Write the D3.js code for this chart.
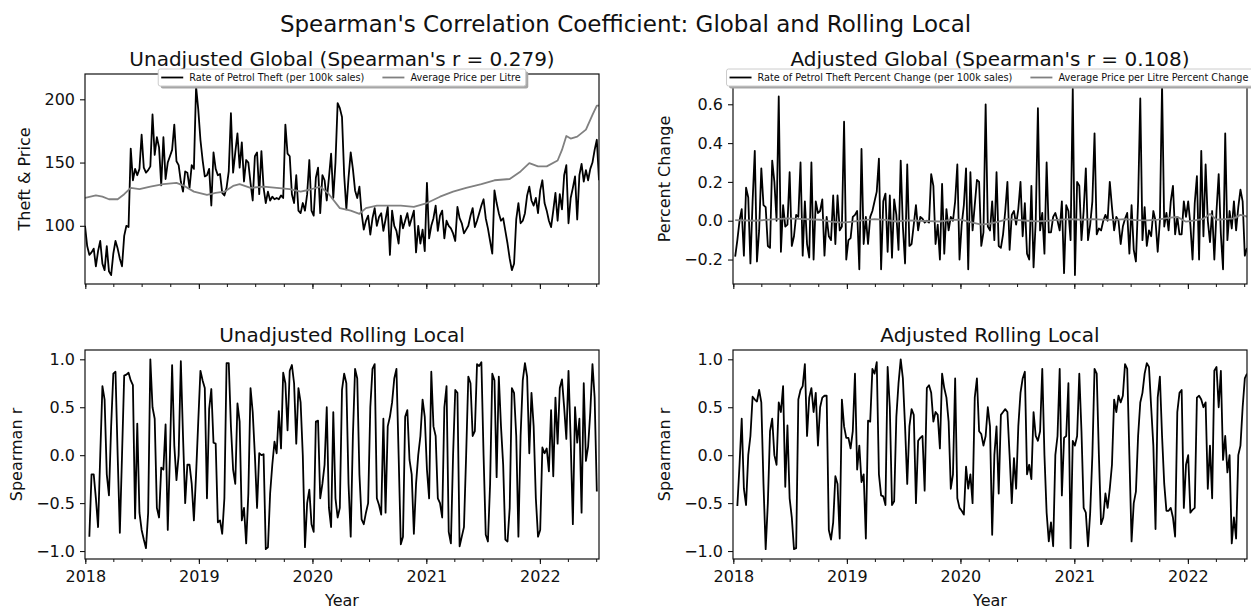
<!DOCTYPE html>
<html>
<head>
<meta charset="utf-8">
<script src="https://cdn.jsdelivr.net/npm/d3@7"></script>
<style>
  body { margin: 0; background: #fff; }
  svg { font-family: "DejaVu Sans", sans-serif; }
</style>
</head>
<body>
<svg id="chart" width="1251" height="609"></svg>
<script>
// weekly observations, week 0 = 2017-12-31
const startDate = new Date(2017, 11, 31);
const weekDate = i => d3.timeDay.offset(startDate, i * 7);

// rate of petrol theft per 100k sales (weeks 0..236)
const theftRate = [
  100, 84, 77, 79, 82, 68, 80, 88, 70, 65,
  84, 64, 61, 78, 88, 82, 74, 68, 92, 100,
  99, 161, 136, 145, 140, 145, 172, 146, 142, 144,
  147, 188, 156, 170, 162, 132, 170, 137, 150, 155,
  160, 180, 151, 148, 135, 127, 143, 142, 130, 148,
  145, 210, 192, 168, 152, 139, 140, 145, 116, 158,
  145, 140, 141, 126, 124, 130, 143, 189, 142, 158,
  173, 146, 166, 135, 152, 150, 134, 120, 155, 158,
  125, 159, 130, 118, 127, 120, 123, 121, 122, 121,
  124, 122, 180, 157, 155, 125, 118, 140, 112, 110,
  118, 112, 125, 152, 112, 108, 138, 146, 110, 140,
  136, 120, 138, 157, 122, 150, 197, 193, 186, 140,
  113, 138, 158, 145, 128, 122, 131, 110, 97, 104,
  108, 93, 106, 114, 100, 107, 110, 96, 105, 115,
  77, 112, 100, 96, 86, 108, 98, 104, 110, 100,
  106, 112, 79, 100, 86, 97, 80, 134, 90, 100,
  106, 116, 96, 108, 112, 90, 104, 100, 98, 94,
  88, 115, 106, 102, 94, 97, 100, 108, 114, 99,
  104, 110, 116, 121, 106, 98, 88, 78, 128, 118,
  110, 104, 106, 96, 86, 74, 65, 70, 105, 118,
  102, 104, 110, 124, 131, 120, 116, 122, 110, 128,
  136, 118, 112, 104, 99, 112, 126, 104, 125, 113,
  140, 148, 102, 122, 130, 139, 105, 140, 149, 135,
  144, 136, 145, 150, 160, 168, 136
];

// average price per litre (read at turning points)
const priceWeeks = [0, 5, 8, 11, 15, 18, 21, 25, 30, 36, 42, 45, 50, 56, 60, 64, 68, 71, 76, 82,
  88, 94, 99, 103, 108, 112, 117, 122, 126, 129, 134, 145, 151, 157, 163, 169, 175, 182, 188, 195,
  200, 204, 208, 212, 217, 219, 221, 223, 226, 230, 233, 235, 236];
const priceValues = [122, 124, 123, 121, 121, 125, 130, 129, 131, 133, 134, 132, 127, 124.5, 126, 127, 131.5, 133, 130, 131,
  130, 129, 127, 128.5, 131, 125, 114, 112, 109.5, 114, 116, 116, 115, 118, 123, 127, 130, 133, 136, 137,
  143, 149.5, 147, 147, 151.6, 160, 171, 169, 170.5, 176, 187.6, 195, 195];

// theft percent change (weeks 1..236)
const theftChange = [
  -0.185, -0.1, 0.0, 0.06, -0.18, 0.17, 0.12, -0.22, 0.1, 0.36,
  -0.21, -0.05, 0.27, 0.08, 0.07, -0.13, -0.14, 0.31, 0.2, 0.0,
  0.64, -0.16, 0.08, -0.03, -0.02, 0.25, -0.13, -0.08, 0.03, 0.02,
  0.3, -0.18, 0.1, -0.12, -0.19, 0.3, -0.2, 0.1, 0.04, 0.05,
  0.11, -0.18, 0.02, -0.08, -0.1, 0.13, -0.12, 0.13, -0.05, -0.03,
  0.51, -0.2, -0.1, -0.09, 0.02, 0.03, 0.05, -0.25, 0.37, -0.12,
  0.02, -0.12, 0.02, 0.05, 0.1, 0.15, 0.32, -0.25, 0.1, 0.14,
  -0.16, 0.13, -0.19, 0.11, 0.03, -0.15, 0.31, -0.03, -0.22, 0.29,
  -0.13, -0.12, -0.02, 0.08, -0.05, 0.02, 0.01, -0.01, 0.0, -0.01,
  0.24, 0.18, -0.12, -0.02, -0.2, 0.19, -0.17, 0.06, -0.05, 0.02,
  0.0, 0.1, 0.29, -0.2, -0.02, 0.08, 0.27, -0.25, 0.25, -0.05,
  0.08, 0.21, 0.2, -0.13, -0.06, 0.6, -0.03, -0.05, 0.1, -0.1,
  0.25, -0.13, -0.14, -0.07, 0.05, 0.2, -0.15, 0.03, 0.05, -0.02,
  0.06, 0.2, -0.08, 0.09, -0.17, -0.2, 0.18, -0.24, 0.0, 0.58,
  -0.05, 0.04, -0.17, 0.3, -0.06, -0.06, 0.02, 0.04, 0.0, -0.05,
  0.1, -0.27, 0.08, 0.05, -0.1, 0.68, -0.28, 0.2, 0.18, -0.1,
  0.05, 0.27, -0.1, -0.02, 0.1, 0.45, -0.07, -0.04, -0.05, 0.0,
  0.03, 0.0, 0.2, 0.07, -0.05, 0.02, 0.0, -0.12, -0.03, 0.01,
  0.04, -0.17, 0.08, -0.15, -0.21, 0.1, 0.63, -0.1, 0.07, -0.13,
  -0.05, -0.08, 0.05, 0.0, -0.16, 0.0, 0.7, -0.03, 0.04, -0.05,
  0.1, 0.18, -0.07, 0.02, -0.07, -0.07, 0.1, 0.02, 0.1, -0.02,
  -0.2, 0.09, 0.23, -0.2, 0.36, -0.08, 0.29, 0.0, -0.11, 0.05,
  -0.2, 0.05, 0.24, -0.07, -0.25, 0.45, -0.1, 0.05, -0.04, 0.1,
  -0.05, 0.07, 0.16, 0.1, -0.18, -0.14
];

// price percent change (read at turning points)
const priceChangeWeeks = [1, 10, 20, 25, 30, 40, 45, 50, 55, 60, 65, 70, 75, 80, 85, 90, 95, 100, 105, 110,
  114, 118, 122, 126, 130, 135, 140, 145, 150, 155, 160, 165, 170, 175, 180, 185, 190, 195, 200, 204,
  208, 212, 216, 219, 222, 226, 230, 233, 235, 236];
const priceChangeValues = [0.003, 0.0, 0.008, 0.012, 0.01, 0.005, -0.005, -0.01, -0.005, 0.003, 0.008, 0.004, -0.004, 0.002, 0.0, -0.002, -0.004, 0.004, 0.005, -0.01,
  -0.02, -0.015, -0.005, 0.008, 0.004, 0.0, -0.003, 0.0, 0.006, 0.008, 0.005, 0.008, 0.006, 0.004, 0.008, 0.003, 0.002, 0.006, 0.015, 0.02,
  -0.005, 0.002, 0.01, 0.035, 0.005, 0.008, 0.012, 0.03, 0.025, 0.02];

// rolling local spearman r, unadjusted (weeks 2..235)
const rollingUnadjusted = [
  -0.85, -0.2, -0.2, -0.45, -0.75, 0.0, 0.72, 0.58, -0.2, -0.42,
  0.3, 0.85, 0.87, 0.0, -0.81, 0.0, 0.83, 0.84, 0.86, 0.78,
  0.73, -0.66, 0.33, -0.6, -0.78, -0.88, -0.97, -0.6, 1.0, 0.5,
  0.38, -0.55, -0.65, -0.13, -0.15, 0.32, -0.78, 0.0, 0.94, 0.1,
  -0.26, 0.0, 0.98, 0.2, -0.5, -0.1, -0.1, -0.3, -0.68, -0.2,
  0.35, 0.88, 0.78, 0.7, -0.45, 0.48, 0.69, 0.13, 0.12, -0.7,
  -0.68, -0.82, -0.45, 0.96, 0.96, 0.3, -0.15, -0.3, 0.54, 0.35,
  -0.68, -0.55, -0.92, -0.4, 0.7, 0.45, 0.0, -0.55, 0.02, 0.0,
  0.01, -0.98, -0.96, -0.4, -0.1, 0.14, 0.02, 0.46, 0.07, 0.86,
  0.75, 0.26, 0.88, 0.94, 0.75, 0.12, 0.7, 0.55, 0.0, -0.96,
  -0.5, -0.36, -0.72, -0.8, 0.35, 0.36, -0.45, -0.3, -0.1, 0.5,
  -0.55, -0.75, 0.45, -0.45, -0.65, -0.55, 0.68, 0.85, 0.75, -0.3,
  -0.85, 0.2, 0.9, 0.8, -0.2, -0.67, -0.72, -0.6, -0.5, 0.5,
  0.9, 0.95, -0.45, -0.52, -0.62, 0.38, -0.6, 0.3, 0.4, 0.55,
  0.8, 0.9, 0.0, -0.93, -0.85, 0.4, 0.47, -0.05, -0.2, -0.82,
  -0.3, 0.0, 0.2, 0.58, 0.4, -0.15, -0.45, 0.87, 0.3, 0.2,
  -0.45, -0.5, -0.65, 0.5, 0.72, -0.8, -0.92, 0.0, 0.68, 0.65,
  -0.95, -0.85, -0.75, 0.0, 0.82, 0.75, 0.2, 0.25, 0.95, 0.93,
  0.97, 0.0, -0.83, -0.9, -0.3, 0.85, 0.78, -0.23, 0.82, 0.3,
  -0.1, -0.88, -0.9, -0.55, 0.7, 0.65, 0.2, -0.85, 0.2, 0.78,
  0.96, 0.82, 0.02, 0.65, 0.3, -0.45, -0.85, -0.78, 0.08, 0.02,
  0.07, -0.17, 0.47, -0.22, 0.6, 0.12, 0.7, 0.79, 0.5, 0.17,
  0.88, 0.15, -0.72, 0.5, 0.13, 0.38, -0.6, 0.75, -0.06, 0.09,
  0.45, 0.95, 0.6, -0.38
];

// rolling local spearman r, adjusted (weeks 2..236)
const rollingAdjusted = [
  -0.53, -0.1, 0.38, -0.35, -0.52, 0.0, 0.2, 0.61, 0.58, 0.56,
  0.68, 0.55, -0.3, -0.98, -0.5, 0.25, 0.38, 0.0, -0.1, 0.55,
  0.45, 0.72, -0.33, 0.31, -0.45, -0.65, -0.98, -0.97, 0.58, 0.68,
  0.72, 0.95, 0.2, 0.6, 0.7, 0.45, 0.65, 0.1, 0.5, 0.6,
  0.62, 0.62, -0.78, -0.88, -0.7, -0.22, -0.3, -0.87, 0.58, 0.3,
  0.18, 0.18, 0.07, 0.25, 0.85, -0.15, 0.1, -0.28, -0.2, -0.87,
  0.36, 0.35, 0.9, 0.85, 0.97, -0.2, -0.42, -0.43, -0.52, 0.92,
  0.5, -0.52, -0.48, 0.4, 0.75, 1.0, 0.8, 0.3, -0.3, 0.3,
  0.48, 0.42, -0.5, 0.15, 0.18, 0.2, -0.37, 0.7, 0.73, 0.65,
  0.35, 0.45, 0.42, 0.07, 0.85, 0.7, 0.6, 0.35, -0.35, -0.2,
  0.8, -0.45, -0.55, -0.58, -0.62, -0.12, -0.35, -0.2, -0.5, 0.6,
  0.8, 0.25, 0.22, 0.1, 0.2, 0.5, 0.3, -0.83, 0.0, 0.3,
  -0.4, 0.42, 0.45, 0.48, 0.45, 0.0, -0.5, -0.03, -0.35, 0.3,
  0.65, 0.8, 0.87, -0.2, -0.1, -0.25, 0.45, 0.2, 0.15, 0.25,
  0.9, 0.0, -0.6, -0.9, -0.7, -0.95, 0.0, 0.2, 0.9, -0.42,
  0.18, 0.2, 0.75, -0.97, 0.15, 0.1, 0.2, 0.85, 0.25, -0.55,
  -0.6, -0.95, -0.6, 0.0, 0.9, 0.85, 0.0, -0.72, -0.65, -0.4,
  -0.55, -0.35, -0.1, 0.58, 0.45, 0.62, 0.55, 0.62, 0.95, 0.9,
  0.0, -0.9, -0.5, -0.38, 0.2, 0.55, 0.65, 0.85, 0.96, 0.92,
  0.5, 0.1, -0.77, 0.6, 0.82, 0.2, -0.3, -0.58, -0.58, -0.55,
  -0.65, -0.85, 0.45, 0.65, 0.68, -0.55, -0.1, 0.0, -0.6, -0.57,
  -0.55, 0.6, 0.62, 0.58, 0.5, 0.55, -0.35, 0.1, -0.45, 0.88,
  0.92, 0.5, 0.88, -0.05, 0.2, -0.18, 0.0, -0.92, -0.65, -0.87,
  0.0, 0.1, 0.5, 0.8, 0.85
];

const fromWeek = (values, start) => values.map((v, i) => ({ date: weekDate(start + i), value: v }));
const fromPairs = (weeks, values) => weeks.map((w, i) => ({ date: weekDate(w), value: values[i] }));

const svg = d3.select("#chart");
const ink = "#111";
const plotW = 514;
const xDomain = [weekDate(0), weekDate(236)];

const panels = [
  {
    id: "tl", left: 85, top: 74, height: 210,
    title: "Unadjusted Global (Spearman's r = 0.279)",
    ylabel: "Theft & Price", yDomain: [54, 220], yTicks: [100, 150, 200], yFmt: d3.format("d"),
    series: [
      { data: fromWeek(theftRate, 0), color: "#000" },
      { data: fromPairs(priceWeeks, priceValues), color: "#808080" }
    ],
    legend: [
      { label: "Rate of Petrol Theft (per 100k sales)", color: "#000" },
      { label: "Average Price per Litre", color: "#808080" }
    ],
    xLabels: false
  },
  {
    id: "tr", left: 733, top: 74, height: 210,
    title: "Adjusted Global (Spearman's r = 0.108)",
    ylabel: "Percent Change", yDomain: [-0.326, 0.756], yTicks: [-0.2, 0, 0.2, 0.4, 0.6], yFmt: d3.format(".1f"),
    series: [
      { data: fromWeek(theftChange, 1), color: "#000" },
      { data: fromPairs(priceChangeWeeks, priceChangeValues), color: "#808080" }
    ],
    legend: [
      { label: "Rate of Petrol Theft Percent Change (per 100k sales)", color: "#000" },
      { label: "Average Price per Litre Percent Change", color: "#808080" }
    ],
    xLabels: false
  },
  {
    id: "bl", left: 85, top: 350, height: 209,
    title: "Unadjusted Rolling Local",
    ylabel: "Spearman r", yDomain: [-1.083, 1.097], yTicks: [-1, -0.5, 0, 0.5, 1], yFmt: d3.format(".1f"),
    series: [{ data: fromWeek(rollingUnadjusted, 2), color: "#000" }],
    xLabels: true
  },
  {
    id: "br", left: 733, top: 350, height: 209,
    title: "Adjusted Rolling Local",
    ylabel: "Spearman r", yDomain: [-1.083, 1.097], yTicks: [-1, -0.5, 0, 0.5, 1], yFmt: d3.format(".1f"),
    series: [{ data: fromWeek(rollingAdjusted, 2), color: "#000" }],
    xLabels: true
  }
];

// figure title
svg.append("text")
  .attr("x", 625.5).attr("y", 32)
  .attr("text-anchor", "middle")
  .attr("font-size", 23).attr("fill", ink)
  .text("Spearman's Correlation Coefficient: Global and Rolling Local");

const defs = svg.append("defs");

panels.forEach(p => {
  const x = d3.scaleTime().domain(xDomain).range([p.left, p.left + plotW]);
  const y = d3.scaleLinear().domain(p.yDomain).range([p.top + p.height, p.top]);

  defs.append("clipPath").attr("id", "clip-" + p.id)
    .append("rect").attr("x", p.left).attr("y", p.top).attr("width", plotW).attr("height", p.height);

  const g = svg.append("g");

  // lines
  const line = d3.line().x(d => x(d.date)).y(d => y(d.value));
  p.series.forEach(s => {
    g.append("path")
      .datum(s.data)
      .attr("clip-path", `url(#clip-${p.id})`)
      .attr("fill", "none")
      .attr("stroke", s.color)
      .attr("stroke-width", 1.8)
      .attr("stroke-linejoin", "round")
      .attr("d", line);
  });

  // spines
  g.append("rect")
    .attr("x", p.left).attr("y", p.top).attr("width", plotW).attr("height", p.height)
    .attr("fill", "none").attr("stroke", ink).attr("stroke-width", 1.2);

  // y axis
  const yAxis = g.append("g")
    .attr("transform", `translate(${p.left},0)`)
    .call(d3.axisLeft(y).tickValues(p.yTicks).tickFormat(p.yFmt).tickSize(5).tickPadding(5).tickSizeOuter(0));
  yAxis.select(".domain").remove();
  yAxis.selectAll("line").attr("stroke", ink).attr("stroke-width", 1.1);
  yAxis.selectAll("text").attr("font-size", 16).attr("fill", ink).attr("font-family", "DejaVu Sans");

  // x axis: minor quarterly ticks, major yearly ticks
  const bottom = p.top + p.height;
  const minor = g.append("g")
    .attr("transform", `translate(0,${bottom})`)
    .call(d3.axisBottom(x).ticks(d3.timeMonth.every(3)).tickFormat("").tickSize(3).tickSizeOuter(0));
  minor.select(".domain").remove();
  minor.selectAll("line").attr("stroke", ink);

  const major = g.append("g")
    .attr("transform", `translate(0,${bottom})`)
    .call(d3.axisBottom(x).ticks(d3.timeYear.every(1))
      .tickFormat(p.xLabels ? d3.timeFormat("%Y") : "")
      .tickSize(5).tickPadding(7).tickSizeOuter(0));
  major.select(".domain").remove();
  major.selectAll("line").attr("stroke", ink).attr("stroke-width", 1.1);
  major.selectAll("text").attr("font-size", 16).attr("fill", ink).attr("font-family", "DejaVu Sans");

  if (p.xLabels) {
    g.append("text")
      .attr("x", p.left + plotW / 2).attr("y", 606)
      .attr("text-anchor", "middle")
      .attr("font-size", 16).attr("fill", ink)
      .text("Year");
  }

  // y label, placed left of the tick labels
  const bb = yAxis.node().getBBox();
  const lx = p.left + bb.x - 20;
  g.append("text")
    .attr("transform", `translate(${lx},${p.top + p.height / 2}) rotate(-90)`)
    .attr("text-anchor", "middle")
    .attr("dominant-baseline", "central")
    .attr("font-size", 16).attr("fill", ink)
    .text(p.ylabel);

  // panel title
  g.append("text")
    .attr("x", p.left + plotW / 2).attr("y", p.top - 8)
    .attr("text-anchor", "middle")
    .attr("font-size", 20).attr("fill", ink)
    .text(p.title);

  // legend with shadow, centred over the top of the panel
  if (p.legend) {
    const lg = g.append("g");
    let pos = 3;
    p.legend.forEach(item => {
      lg.append("line")
        .attr("x1", pos).attr("x2", pos + 22)
        .attr("y1", 8.5).attr("y2", 8.5)
        .attr("stroke", item.color).attr("stroke-width", 1.8);
      const t = lg.append("text")
        .attr("x", pos + 28).attr("y", 12)
        .attr("font-size", 9.7).attr("fill", ink)
        .text(item.label);
      pos += 28 + t.node().getComputedTextLength() + 18;
    });
    const w = pos - 18 + 5;
    lg.insert("rect", ":first-child")
      .attr("x", 0).attr("y", 0).attr("width", w).attr("height", 17)
      .attr("rx", 2).attr("fill", "#fff").attr("stroke", "#cccccc").attr("stroke-width", 1);
    lg.insert("rect", ":first-child")
      .attr("x", 2.5).attr("y", 2.5).attr("width", w).attr("height", 17)
      .attr("rx", 2).attr("fill", "#a6a6a6");
    lg.attr("transform", `translate(${p.left + plotW / 2 - w / 2},${p.top - 5})`);
  }
});
</script>
</body>
</html>
